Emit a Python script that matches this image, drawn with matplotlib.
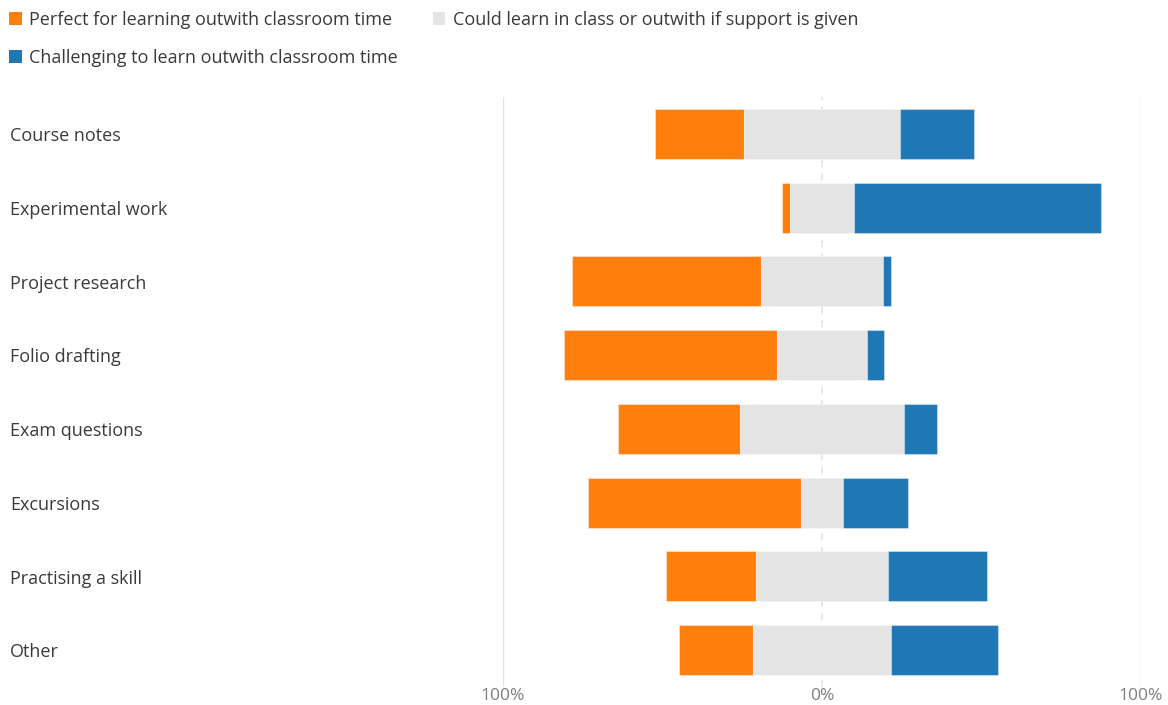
import matplotlib
matplotlib.use('Agg')
from matplotlib import pyplot as plt
from matplotlib.patches import Patch
from matplotlib.transforms import blended_transform_factory
import numpy

plt.rcParams['font.family'] = ['Open Sans', 'DejaVu Sans']

categories = ['Course notes', 'Experimental work', 'Project research',
              'Folio drafting', 'Exam questions', 'Excursions',
              'Practising a skill', 'Other']

# percent of responses
perfect     = [28.2,  2.5, 59.3, 66.8, 38.2, 66.8, 28.2, 23.2]
could       = [48.6, 20.0, 38.2, 28.2, 51.7, 13.2, 41.4, 43.2]
challenging = [23.2, 77.5,  2.5,  5.3, 10.1, 20.4, 31.0, 33.6]

series_names = ['Perfect for learning outwith classroom time',
                'Could learn in class or outwith if support is given',
                'Challenging to learn outwith classroom time']
colors = ['#ff7f0e', '#e4e4e4', '#1f77b4']

tick_vals   = [-100, 0, 100]
tick_labels = ['100%', '0%', '100%']

txtColor  = '#3a3a3a'
gridColor = '#e3e3e3'

fig = plt.figure(figsize=(11.68, 7.05), dpi=100)
ax  = fig.add_axes([503/1168, 1 - 687/705, (1141 - 503)/1168, (687 - 97)/705])

pp = numpy.array(perfect)
cc = numpy.array(could)
ch = numpy.array(challenging)
yy = numpy.arange(len(categories))

left_p = -(pp + cc/2.0)
left_c = -cc/2.0
left_h = cc/2.0

barKW = {'height': 0.68, 'linewidth': 0.8, 'edgecolor': (1, 1, 1, 0.35), 'zorder': 3}
ax.barh(yy, pp, left=left_p, color=colors[0], **barKW)
ax.barh(yy, cc, left=left_c, color=colors[1], **barKW)
ax.barh(yy, ch, left=left_h, color=colors[2], **barKW)

ax.set_xlim(-100, 100)
ax.set_ylim(len(categories) - 0.5, -0.5)

# grid lines
ax.axvline(-100, color=gridColor, linewidth=1.0, zorder=1)
ax.axvline(100,  color=gridColor, linewidth=1.0, zorder=1)
ax.axvline(0, color=gridColor, linewidth=1.2, linestyle=(0, (4, 4)), zorder=1)

for s in ax.spines.values():
  s.set_visible(False)

ax.set_yticks([])
ax.set_xticks(tick_vals)
ax.set_xticklabels(tick_labels)
ax.tick_params(axis='x', length=0, pad=1, labelsize=12.5, colors='#7f7f7f')

trans = blended_transform_factory(fig.transFigure, ax.transData)
for y, name in zip(yy, categories):
  ax.text(10/1168, y + 0.03, name, transform=trans, ha='left', va='center',
          fontsize=13, color=txtColor)

handles = [Patch(facecolor=colors[i], edgecolor='none', label=series_names[i]) for i in (0, 2, 1)]
leg = fig.legend(handles=handles, loc='upper left', bbox_to_anchor=(0.0, 1.0 - 2/705),
                 ncol=2, frameon=False, fontsize=13, handlelength=0.7,
                 handleheight=0.7, handletextpad=0.4, columnspacing=1.95,
                 labelspacing=1.1, borderaxespad=0.2, borderpad=0.3,
                 labelcolor=txtColor)

fig.savefig('out.png', dpi=100)
